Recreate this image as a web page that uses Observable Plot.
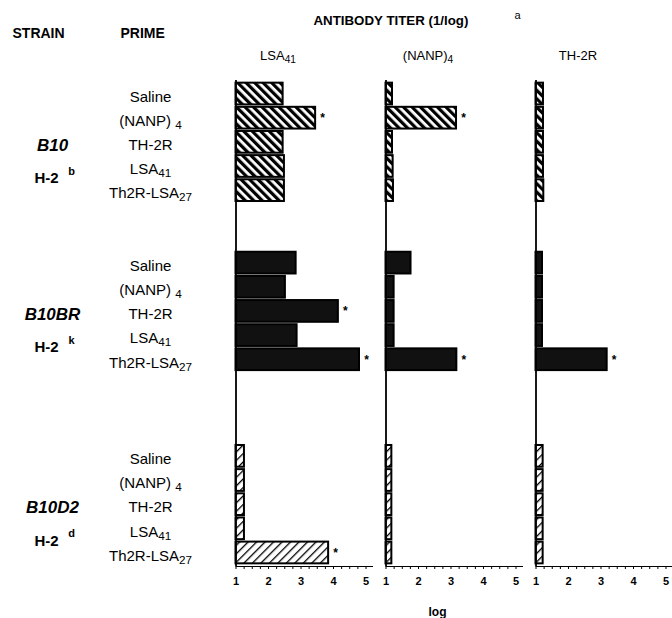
<!DOCTYPE html>
<html><head><meta charset="utf-8">
<script src="https://cdn.jsdelivr.net/npm/d3@7"></script>
<script src="https://cdn.jsdelivr.net/npm/@observablehq/plot@0.6"></script>
<style>
body{margin:0;background:#fff;}
#chart{width:672px;height:618px;}
#chart svg{font-family:"Liberation Sans",Arial,Helvetica,sans-serif;}
#chart [aria-label="x-axis tick label"] text{font-weight:bold;font-size:11px;}
</style></head><body><div id="chart"></div>
<script>
// ---- data ----
const strains = ["B10", "B10BR", "B10D2"];
const haplotypes = ["b", "k", "d"];
const primes = ["Saline", "(NANP) ₄", "TH-2R", "LSA₄₁", "Th2R-LSA₂₇"];
const antigens = ["LSA₄₁", "(NANP)₄", "TH-2R"];
const xTickLabels = [1, 2, 3, 4, 5];
// antibody titer (1/log), rows = strain, cols = prime
const titerLSA41 = [
  [2.45, 3.45, 2.45, 2.49, 2.49],
  [2.85, 2.52, 4.15, 2.88, 4.80],
  [1.26, 1.26, 1.26, 1.26, 3.85]
];
const titerNANP4 = [
  [1.20, 3.17, 1.20, 1.22, 1.23],
  [1.77, 1.25, 1.25, 1.25, 3.18],
  [1.18, 1.18, 1.18, 1.18, 1.18]
];
const titerTH2R = [
  [1.23, 1.23, 1.23, 1.23, 1.24],
  [1.20, 1.20, 1.20, 1.20, 3.19],
  [1.22, 1.22, 1.22, 1.22, 1.22]
];
// significance asterisks
const sigLSA41 = [[0,1,0,0,0],[0,0,1,0,1],[0,0,0,0,1]];
const sigNANP4 = [[0,1,0,0,0],[0,0,0,0,1],[0,0,0,0,0]];
const sigTH2R  = [[0,0,0,0,0],[0,0,0,0,1],[0,0,0,0,0]];
const gapsAfterGroup = [2, 3]; // empty rows between strain groups
const BASE = 1; // axis origin of log titer

// ---- build tidy table ----
const titers = [titerLSA41, titerNANP4, titerTH2R];
const sigs = [sigLSA41, sigNANP4, sigTH2R];
const rowKey = (s, p) => s + "|" + p;
const data = [];
antigens.forEach((a, ai) => strains.forEach((s, si) => primes.forEach((p, pi) => {
  data.push({antigen: a, strain: s, prime: p, row: rowKey(s, p),
             value: titers[ai][si][pi], sig: sigs[ai][si][pi] === 1});
})));
const yDomain = [];
strains.forEach((s, si) => {
  primes.forEach(p => yDomain.push(rowKey(s, p)));
  if (si < gapsAfterGroup.length) for (let g = 0; g < gapsAfterGroup[si]; g++) yDomain.push("gap" + si + "_" + g);
});
const first = () => antigens[0];
const rowsFirst = strains.flatMap(s => primes.map(p => ({strain: s, prime: p, row: rowKey(s, p)})));
const strainInfo = strains.map((s, i) => ({strain: s, hap: haplotypes[i]}));

const fillFor = {B10: "url(#hatchB10)", B10BR: "#111", B10D2: "url(#hatchB10D2)"};
const barMarks = strains.map(s => Plot.barX(data.filter(d => d.strain === s), {
  fx: "antigen", y: "row", x1: () => BASE, x2: "value",
  fill: fillFor[s], stroke: "black", strokeWidth: 2
}));

const chart = Plot.plot({
  width: 672, height: 618,
  marginTop: 80, marginBottom: 52, marginLeft: 235.5, marginRight: 0,
  fx: {domain: antigens, paddingInner: 0.09, paddingOuter: 0, axis: null, round: false},
  y: {domain: yDomain, paddingInner: 0.1, paddingOuter: 0.11, axis: null, round: false},
  x: {domain: [1, 5.2], ticks: d3.range(1, 5.01, 0.25),
      tickFormat: d => xTickLabels.includes(+d.toFixed(4)) ? String(Math.round(d)) : "",
      tickSize: 3, tickPadding: 8, line: true, label: null},
  style: {fontSize: "12px", color: "black", background: "white"},
  marks: [
    ...barMarks,
    Plot.ruleX([BASE], {stroke: "black", strokeWidth: 1.8}),
    Plot.text(data.filter(d => d.sig), {fx: "antigen", y: "row", x: "value", text: () => "*",
      dx: 7, fontSize: 12, fontWeight: "bold", textAnchor: "middle"}),
    // panel titles
    Plot.text(antigens, {fx: d => d, text: d => d, frameAnchor: "top-left", lineAnchor: "middle",
      dx: 42, dy: -25, fontSize: 13, textAnchor: "middle"}),
    // prime labels
    Plot.text(rowsFirst, {fx: first, y: "row", text: "prime", frameAnchor: "left",
      dx: -85.5, dy: 3, fontSize: 15, textAnchor: "middle"}),
    // strain labels
    Plot.text(strainInfo, {fx: first, y: d => rowKey(d.strain, primes[2]), text: "strain", frameAnchor: "left",
      dx: -183.5, dy: 3, fontSize: 17, fontWeight: "bold", fontStyle: "italic", textAnchor: "middle"}),
    Plot.text(strainInfo, {fx: first, y: d => rowKey(d.strain, primes[3]), text: () => "H-2", frameAnchor: "left",
      dx: -201.5, dy: 12, fontSize: 15, fontWeight: "bold", textAnchor: "start"}),
    Plot.text(strainInfo, {fx: first, y: d => rowKey(d.strain, primes[3]), text: "hap", frameAnchor: "left",
      dx: -164.5, dy: 5, fontSize: 11, fontWeight: "bold", textAnchor: "middle"}),
    // header
    Plot.text(["STRAIN"], {fx: first, text: d => d, frameAnchor: "top-left", lineAnchor: "middle",
      dx: -223.5, dy: -47, fontSize: 14, fontWeight: "bold", textAnchor: "start"}),
    Plot.text(["PRIME"], {fx: first, text: d => d, frameAnchor: "top-left", lineAnchor: "middle",
      dx: -115.5, dy: -47, fontSize: 14, fontWeight: "bold", textAnchor: "start"}),
    Plot.text(["ANTIBODY TITER (1/log)"], {fx: first, text: d => d, frameAnchor: "top-left", lineAnchor: "middle",
      dx: 77.5, dy: -60, fontSize: 13.3, fontWeight: "bold", textAnchor: "start"}),
    Plot.text(["a"], {fx: first, text: d => d, frameAnchor: "top-left", lineAnchor: "middle",
      dx: 281.5, dy: -65, fontSize: 11, textAnchor: "middle"}),
    Plot.text(["log"], {fx: first, text: d => d, frameAnchor: "bottom-left", lineAnchor: "middle",
      dx: 201.5, dy: 46, fontSize: 12, fontWeight: "bold", textAnchor: "middle"})
  ]
});

// hatch patterns
const svg = d3.select(chart);
const defs = svg.insert("defs", ":first-child");
function stripes(id, angle, period, thick) {
  const p = defs.append("pattern").attr("id", id).attr("patternUnits", "userSpaceOnUse")
    .attr("width", period).attr("height", period).attr("patternTransform", `rotate(${angle})`);
  p.append("rect").attr("width", period).attr("height", period).attr("fill", "white");
  p.append("rect").attr("x", 0).attr("width", thick).attr("height", period).attr("fill", "black");
}
stripes("hatchB10", -45, 6.0, 3.2);
stripes("hatchB10D2", 45, 6.0, 1.3);

// render Unicode subscript digits as lowered smaller tspans
const SUBS = "₀₁₂₃₄₅₆₇₈₉";
svg.selectAll("text").each(function() {
  if (this.querySelector("tspan")) return;
  const t = this.textContent;
  if (!/[₀-₉]/.test(t)) return;
  const el = d3.select(this);
  el.text(null);
  let lowered = false;
  (t.match(/[₀-₉]+|[^₀-₉]+/g) || []).forEach(run => {
    const isSub = /[₀-₉]/.test(run);
    const ts = el.append("tspan");
    if (isSub) {
      ts.text(run.split("").map(c => SUBS.indexOf(c)).join("")).attr("font-size", "0.78em").attr("dy", 3);
      lowered = true;
    } else {
      ts.text(run);
      if (lowered) { ts.attr("dy", -3); lowered = false; }
    }
  });
});
document.getElementById("chart").appendChild(chart);
</script></body></html>
